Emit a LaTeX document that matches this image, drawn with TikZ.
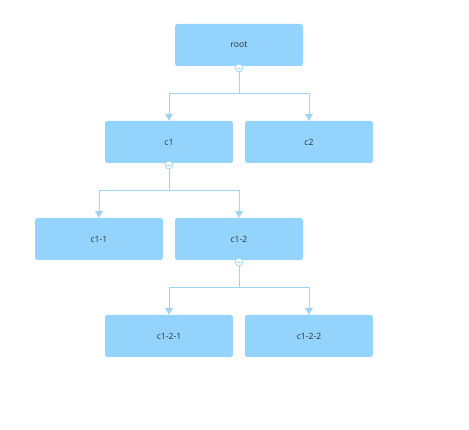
\documentclass[tikz,border=0pt]{standalone}
\usepackage{fontspec}
\setmainfont{Open Sans}
\usetikzlibrary{arrows.meta,calc}
\definecolor{boxfill}{RGB}{148,212,252}
\definecolor{linec}{RGB}{160,212,245}
\definecolor{txt}{RGB}{45,45,45}
\tikzset{
  box/.style={draw=none, fill=boxfill, rounded corners=2.5pt, minimum width=128pt, minimum height=42pt, inner sep=0pt, text=txt, font=\fontsize{8.6}{10}\selectfont},
  knob/.style={circle, draw=linec, fill=white, line width=0.8pt, minimum size=8pt, inner sep=0pt},
  edge/.style={draw=linec, line width=0.9pt, -{Triangle[length=7pt,width=8pt]}},
}
\newcommand{\knobat}[2]{%
  \node[knob] (#1) at (#2) {};
  \draw[linec, line width=0.8pt] ($(#1)+(-2pt,0)$) -- ($(#1)+(2pt,0)$);}
\begin{document}
\begin{tikzpicture}[x=1pt, y=-1pt]
\useasboundingbox (0,0) rectangle (469,430);
\node[box] (root) at (239,45) {root};
\node[box] (c1) at (169,142) {c1};
\node[box] (c2) at (309,142) {c2};
\node[box] (c11) at (99,239) {c1-1};
\node[box] (c12) at (239,239) {c1-2};
\node[box] (c121) at (169,336) {c1-2-1};
\node[box] (c122) at (309,336) {c1-2-2};
% edges
\draw[edge] (239,72) coordinate (rs) -- ++(0,21) -| (c1.north);
\draw[edge] (rs) -- ++(0,21) -| (c2.north);
\draw[edge] (169,169) coordinate (c1s) -- ++(0,21) -| (c11.north);
\draw[edge] (c1s) -- ++(0,21) -| (c12.north);
\draw[edge] (239,266) coordinate (c12s) -- ++(0,21) -| (c121.north);
\draw[edge] (c12s) -- ++(0,21) -| (c122.north);
\knobat{kr}{239,68}
\knobat{k1}{169,165}
\knobat{k12}{239,262}
\end{tikzpicture}
\end{document}
